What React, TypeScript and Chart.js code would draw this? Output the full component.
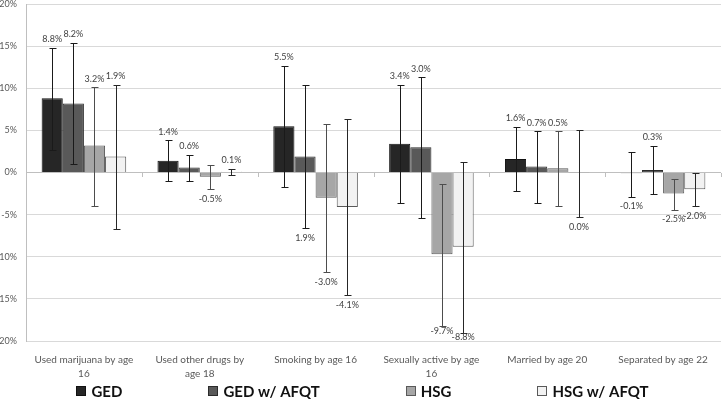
import React, { useEffect, useRef } from "react";
import { Chart, registerables } from "chart.js";
Chart.register(...registerables);

const categories = [
  ["Used marijuana by age", "16"],
  ["Used other drugs by", "age 18"],
  ["Smoking by age 16"],
  ["Sexually active by age", "16"],
  ["Married by age 20"],
  ["Separated by age 22"],
];
const seriesNames = ["GED", "GED w/ AFQT", "HSG", "HSG w/ AFQT"];

const gedValues = [8.8, 1.4, 5.5, 3.4, 1.6, -0.1];
const gedAfqtValues = [8.2, 0.6, 1.9, 3.0, 0.7, 0.3];
const hsgValues = [3.2, -0.5, -3.0, -9.7, 0.5, -2.5];
const hsgAfqtValues = [1.9, 0.1, -4.1, -8.8, -0.04, -2.0];

const gedLow = [2.7, -0.95, -1.7, -3.6, -2.2, -2.85];
const gedHigh = [14.8, 3.8, 12.7, 10.4, 5.4, 2.4];
const gedAfqtLow = [1.0, -1.05, -6.6, -5.4, -3.6, -2.6];
const gedAfqtHigh = [15.4, 2.1, 10.4, 11.3, 4.9, 3.2];
const hsgLow = [-4.0, -2.0, -11.8, -18.2, -4.0, -4.4];
const hsgHigh = [10.1, 0.9, 5.7, -1.35, 4.9, -0.75];
const hsgAfqtLow = [-6.7, -0.25, -14.5, -19.0, -5.3, -4.0];
const hsgAfqtHigh = [10.4, 0.45, 6.3, 1.2, 5.1, 0.0];

const gedLabelPos = ["above", "above", "above", "above", "above", "below"];
const gedAfqtLabelPos = ["above", "above", "below", "above", "above", "above"];
const hsgLabelPos = ["above", "below", "below", "below", "above", "below"];
const hsgAfqtLabelPos = ["above", "above", "below", "below", "below", "below"];

const yMin = -20;
const yMax = 20;
const yStep = 5;

const FONT = "Lato, 'Noto Sans', sans-serif";

const fmt = (v: number) => (Math.abs(v) < 0.05 ? "0.0" : v.toFixed(1)) + "%";

const overlayPlugin = {
  id: "overlay",
  afterDatasetsDraw(chart: any) {
    const ctx = chart.ctx;
    const y = chart.scales.y;
    const area = chart.chartArea;
    ctx.save();
    // zero-line tick marks at category boundaries
    const y0 = Math.round(y.getPixelForValue(0));
    ctx.strokeStyle = "#bfbfbf";
    ctx.lineWidth = 1;
    const n = categories.length;
    const cw = (area.right - area.left) / n;
    for (let i = 1; i <= n; i++) {
      const px = Math.round(area.left + i * cw) + 0.5;
      ctx.beginPath();
      ctx.moveTo(px, y0);
      ctx.lineTo(px, y0 + 4);
      ctx.stroke();
    }
    // error bars
    chart.data.datasets.forEach((ds: any, di: number) => {
      const meta = chart.getDatasetMeta(di);
      meta.data.forEach((bar: any, i: number) => {
        const px = Math.round(bar.x) + 0.5;
        const yl = Math.round(y.getPixelForValue(ds.errLow[i])) + 0.5;
        const yh = Math.round(y.getPixelForValue(ds.errHigh[i])) + 0.5;
        ctx.strokeStyle = ds.errColor;
        ctx.lineWidth = 1;
        ctx.beginPath();
        ctx.moveTo(px, yl);
        ctx.lineTo(px, yh);
        ctx.moveTo(px - 3, yl);
        ctx.lineTo(px + 4, yl);
        ctx.moveTo(px - 3, yh);
        ctx.lineTo(px + 4, yh);
        ctx.stroke();
      });
    });
    // value labels
    ctx.font = "9px " + FONT;
    ctx.fillStyle = "#404040";
    ctx.textAlign = "center";
    ctx.textBaseline = "middle";
    chart.data.datasets.forEach((ds: any, di: number) => {
      const meta = chart.getDatasetMeta(di);
      meta.data.forEach((bar: any, i: number) => {
        const above = ds.labelPos[i] === "above";
        let ty;
        if (above) {
          ty = y.getPixelForValue(ds.errHigh[i]) - 8.5;
        } else {
          const yl = y.getPixelForValue(ds.errLow[i]);
          ty = yl + 10;
          if (ty > area.bottom - 8) ty = yl + 5;
        }
        ctx.fillText(fmt(ds.data[i]), bar.x, ty);
      });
    });
    ctx.restore();
  },
  afterDraw(chart: any) {
    const ctx = chart.ctx;
    ctx.save();
    ctx.font = "bold 15px " + FONT;
    const gap = 86;
    const box = 10;
    const boxGap = 5;
    const ds = chart.data.datasets;
    const widths = ds.map((d: any) => ctx.measureText(d.label).width);
    let total = 0;
    widths.forEach((w: number, i: number) => {
      total += box + boxGap + w + (i > 0 ? gap : 0);
    });
    let cx = (chart.width - total) / 2;
    const cy = 391;
    ctx.textBaseline = "middle";
    ctx.textAlign = "left";
    ds.forEach((d: any, i: number) => {
      ctx.fillStyle = d.backgroundColor;
      ctx.fillRect(Math.round(cx), cy - 5, box, box);
      ctx.strokeStyle = d.borderColor;
      ctx.lineWidth = 1;
      ctx.strokeRect(Math.round(cx) + 0.5, cy - 4.5, box - 1, box - 1);
      ctx.fillStyle = "#111111";
      ctx.fillText(d.label, cx + box + boxGap, cy + 1);
      cx += box + boxGap + widths[i] + gap;
    });
    ctx.restore();
  },
};

export default function App() {
  const ref = useRef<HTMLCanvasElement>(null);
  useEffect(() => {
    if (!ref.current) return;
    const chart = new Chart(ref.current, {
      type: "bar",
      data: {
        labels: categories as any,
        datasets: [
          {
            label: seriesNames[0],
            data: gedValues,
            backgroundColor: "#262626",
            borderColor: "#111111",
            borderWidth: 1,
            errLow: gedLow,
            errHigh: gedHigh,
            errColor: "#1a1a1a",
            labelPos: gedLabelPos,
          } as any,
          {
            label: seriesNames[1],
            data: gedAfqtValues,
            backgroundColor: "#595959",
            borderColor: "#2b2b2b",
            borderWidth: 1,
            errLow: gedAfqtLow,
            errHigh: gedAfqtHigh,
            errColor: "#1a1a1a",
            labelPos: gedAfqtLabelPos,
          } as any,
          {
            label: seriesNames[2],
            data: hsgValues,
            backgroundColor: "#a6a6a6",
            borderColor: "#595959",
            borderWidth: 1,
            errLow: hsgLow,
            errHigh: hsgHigh,
            errColor: "#4d4d4d",
            labelPos: hsgLabelPos,
          } as any,
          {
            label: seriesNames[3],
            data: hsgAfqtValues,
            backgroundColor: "#f2f2f2",
            borderColor: "#595959",
            borderWidth: 1,
            errLow: hsgAfqtLow,
            errHigh: hsgAfqtHigh,
            errColor: "#262626",
            labelPos: hsgAfqtLabelPos,
          } as any,
        ],
      },
      options: {
        responsive: false,
        animation: false,
        layout: { padding: { top: 4, right: 4, left: 0, bottom: 16 } },
        datasets: { bar: { categoryPercentage: 0.73, barPercentage: 1 } },
        plugins: {
          legend: { display: false },
          tooltip: { enabled: false },
        },
        scales: {
          x: {
            grid: { display: false, drawTicks: false },
            border: { display: false },
            ticks: {
              color: "#595959",
              font: { family: FONT, size: 10, lineHeight: 1.4 },
              padding: 12,
              maxRotation: 0,
              autoSkip: false,
            },
            afterFit: (s: any) => {
              s.height = 46;
            },
          },
          y: {
            min: yMin,
            max: yMax,
            grid: {
              color: (c: any) => (c.tick && c.tick.value === 0 ? "#bfbfbf" : "#d9d9d9"),
              drawTicks: false,
            },
            border: { display: true, color: "#bfbfbf" },
            ticks: {
              stepSize: yStep,
              color: "#595959",
              font: { family: FONT, size: 9 },
              padding: 9,
              callback: (v: any) => v + "%",
            },
            afterFit: (s: any) => {
              s.width = 26;
              s.paddingTop = 0;
              s.paddingBottom = 0;
            },
          },
        },
      },
      plugins: [overlayPlugin],
    });
    return () => chart.destroy();
  }, []);
  return (
    <div style={{ position: "absolute", left: 0, top: 0, width: 725, height: 403, background: "#fff" }}>
      <canvas ref={ref} width={725} height={403} style={{ display: "block" }} />
    </div>
  );
}
